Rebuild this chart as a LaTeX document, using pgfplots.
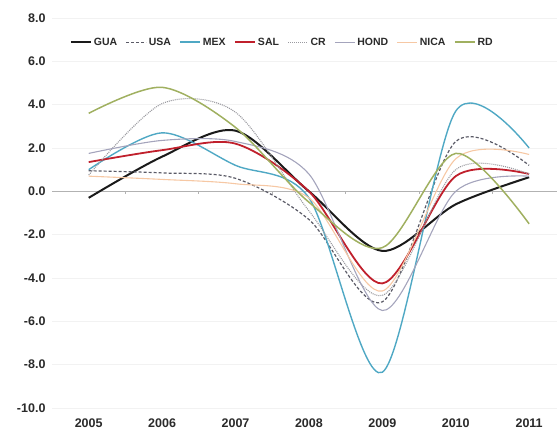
\documentclass[border=0pt]{standalone}
\usepackage{pgfplots}
\pgfplotsset{compat=1.18}
\usepackage{fontspec}
\setmainfont{Liberation Sans}
\definecolor{cGUA}{HTML}{1A1A1A}
\definecolor{cUSA}{HTML}{5A5A66}
\definecolor{cMEX}{HTML}{4FA8C4}
\definecolor{cSAL}{HTML}{C0202C}
\definecolor{cCR}{HTML}{9A9AA0}
\definecolor{cHOND}{HTML}{A4A4BC}
\definecolor{cNICA}{HTML}{F6C8A4}
\definecolor{cRD}{HTML}{A0B060}
\definecolor{txt}{HTML}{2A2A2A}
\pgfplotstableread{
x GUA USA MEX SAL CR HOND NICA RD
0 -0.30 0.95 1.00 1.35 0.75 1.75 0.70 3.60
1 1.60 0.85 2.70 1.90 4.05 2.35 0.55 4.80
2 2.80 0.60 1.20 2.20 3.65 2.30 0.35 2.95
3 0.00 -1.30 -0.30 0.00 -0.90 0.80 -0.30 -0.50
4 -2.75 -5.10 -8.35 -4.25 -4.80 -5.50 -4.60 -2.60
5 -0.60 2.30 3.70 0.70 1.00 0.00 1.50 1.75
6 0.65 1.20 2.00 0.80 0.80 0.70 1.70 -1.50
}\data
\begin{document}
\begin{tikzpicture}
\useasboundingbox (0,0) rectangle (557pt,434pt);
\begin{axis}[
  at={(52pt,26pt)}, anchor=south west,
  scale only axis, width=505pt, height=390pt,
  xmin=-0.5, xmax=6.38, ymin=-10, ymax=8,
  axis line style={draw=none},
  xtick={0,...,6},
  xticklabels={2005,2006,2007,2008,2009,2010,2011},
  ytick={-10,-8,...,8},
  major tick length=0pt,
  ymajorgrids,
  grid style={draw=black!5, line width=0.8pt},
  extra y ticks={0},
  extra y tick labels={},
  extra y tick style={grid style={draw=black!30, line width=0.9pt}},
  tick label style={font=\fontsize{12.5}{14}\selectfont\bfseries, text=txt},
  yticklabel style={xshift=-3pt, /pgf/number format/.cd, fixed, fixed zerofill, precision=1, assume math mode=true},
  xticklabel style={yshift=-7pt},
  every axis plot/.append style={smooth, tension=0.5, no marks},
  legend style={at={(0.456,0.938)}, anchor=center, draw=none, fill=none,
    font=\fontsize{10.5}{12}\selectfont\bfseries, text=txt,
    legend columns=8, /tikz/every even column/.append style={column sep=6.5pt}},
  legend image code/.code={\draw[#1] (0pt,0pt) -- (20pt,0pt);},
]
\addplot[cGUA, line width=2pt] table[x=x,y=GUA]{\data};
\addlegendentry{GUA}
\addplot[cUSA, line width=1.2pt, dash pattern=on 3pt off 2pt] table[x=x,y=USA]{\data};
\addlegendentry{USA}
\addplot[cMEX, line width=1.4pt] table[x=x,y=MEX]{\data};
\addlegendentry{MEX}
\addplot[cSAL, line width=1.8pt] table[x=x,y=SAL]{\data};
\addlegendentry{SAL}
\addplot[cCR, line width=1.1pt, dash pattern=on 1pt off 1pt] table[x=x,y=CR]{\data};
\addlegendentry{CR}
\addplot[cHOND, line width=1.1pt] table[x=x,y=HOND]{\data};
\addlegendentry{HOND}
\addplot[cNICA, line width=1.1pt] table[x=x,y=NICA]{\data};
\addlegendentry{NICA}
\addplot[cRD, line width=1.5pt] table[x=x,y=RD]{\data};
\addlegendentry{RD}
\pgfplotsinvokeforeach{0.5,1.5,2.5,3.5,4.5,5.5}{
  \draw[black!30, line width=0.8pt] (axis cs:#1,0) -- ++(0pt,-3pt);
}
\end{axis}
\end{tikzpicture}
\end{document}
